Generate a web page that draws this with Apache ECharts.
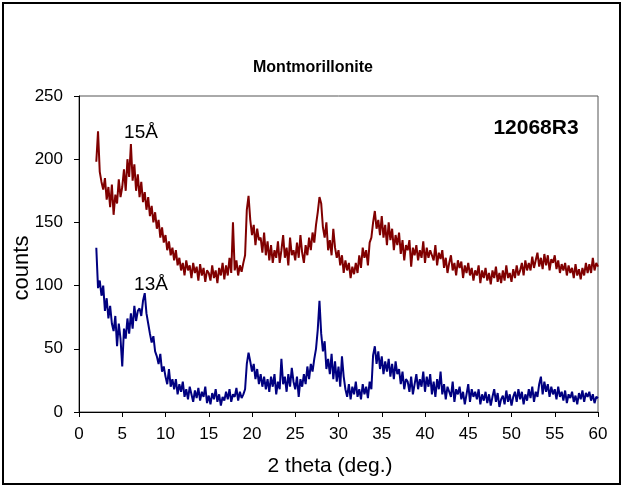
<!DOCTYPE html>
<html><head><meta charset="utf-8">
<script src="https://cdn.jsdelivr.net/npm/echarts@6/dist/echarts.min.js"></script>
<style>html,body{margin:0;padding:0;background:#fff}#c{width:625px;height:489px}</style>
</head><body><div id="c"></div>
<script>
// 2theta sampling: start 2.0 deg, step 0.2 deg, up to 60.0 deg
const thetaStart = 2.0;
const thetaStep = 0.2;
const xTicks = [0,5,10,15,20,25,30,35,40,45,50,55,60];
const yTicks = [0,50,100,150,200,250];

// Upper trace (15 Å sample), counts
const redCounts = [
198,222,190,182,176, 185,168,178,162,180, 156,172,165,184,170, 178,192,175,200,186,
212,183,196,175,188, 170,182,166,174,160, 170,155,163,150,158, 145,152,138,146,134,
140,128,135,124,130, 120,128,116,122,112, 118,108,120,112,116, 106,118,110,115,104,
117,108,114,103,112, 110,104,116,106,112, 102,114,108,118,105, 116,108,122,110,150,
112,120,108,116,111, 118,124,160,171,152, 140,148,132,145,136, 138,126,142,124,135,
120,132,118,128,122, 135,118,128,140,122, 130,116,138,124,128, 120,134,122,140,126,
118,132,124,138,128, 142,134,148,158,170, 165,146,138,150,128, 136,124,145,130,122,
128,116,124,110,120, 112,118,106,115,109, 118,110,124,114,130, 122,128,116,134,138,
150,159,145,152,140, 155,138,148,132,150, 136,145,128,140,132, 142,125,136,120,132,
128,136,115,130,124, 132,120,128,122,135, 118,130,122,128,124, 120,132,116,126,121,
128,114,122,110,118, 124,112,118,108,120, 114,119,106,116,110, 118,108,114,104,112,
108,116,102,112,106, 114,104,110,101,112, 106,115,103,110,102, 112,104,116,106,110,
103,113,106,116,108, 112,118,108,120,112, 118,112,123,114,120, 126,115,122,113,125,
116,124,112,121,118, 124,113,120,110,117, 112,118,108,116,110, 114,106,117,108,113,
105,114,108,118,110, 117,110,122,112,118, 115
];

// Lower trace (13 Å sample), counts
const blueCounts = [
130,98,104,92,100, 80,90,74,84,70, 64,76,52,70,58, 36,66,58,74,62,
78,66,84,72,80, 82,76,88,94,78, 70,62,55,60,48, 44,38,46,32,36,
28,22,34,20,26, 18,26,14,22,16, 24,12,18,10,20, 14,8,17,11,19,
9,16,12,20,7, 13,6,15,10,18, 8,14,5,12,9, 16,10,18,8,14,
12,19,9,16,11, 14,18,38,47,40, 32,38,26,34,22, 30,20,28,18,26,
16,28,20,30,14, 24,18,42,22,28, 16,30,20,35,24, 18,28,12,26,20,
30,22,36,26,38, 32,42,50,65,88, 62,48,56,34,42, 30,46,26,40,24,
36,20,44,28,18, 12,22,10,20,14, 24,12,18,10,22, 14,20,11,24,18,
45,52,38,48,34, 44,30,40,32,42, 28,38,26,40,30, 34,22,32,18,26,
24,16,28,14,22, 30,18,26,20,32, 16,28,20,30,14, 24,12,26,18,32,
14,22,10,20,16, 12,24,8,18,14, 20,10,16,6,14, 22,8,18,12,16,
10,18,6,14,9, 16,7,14,5,12, 18,8,15,4,10, 13,6,17,8,14,
5,12,16,8,18, 10,16,6,14,9, 18,11,20,8,16, 12,22,28,14,24,
16,22,12,20,14, 18,10,20,12,16, 9,17,7,14,11, 16,8,13,6,15,
10,17,8,15,12, 16,9,14,7,12, 11
];

const titleText = 'Montmorillonite';
const sampleText = '12068R3';
const peakLabels = ['15Å', '13Å'];

function toPairs(arr){ return arr.map((v,i)=>[Math.round((thetaStart+i*thetaStep)*10)/10, v]); }

const chart = echarts.init(document.getElementById('c'), null, {renderer:'canvas'});
const FF = '"Liberation Sans", Arial, sans-serif';
chart.setOption({
  animation:false,
  backgroundColor:'#fff',
  grid:{left:79, right:27, top:96, bottom:77, show:true, borderColor:'#555', borderWidth:1},
  xAxis:{type:'value', min:xTicks[0], max:xTicks[xTicks.length-1], interval:5,
    axisLine:{show:true, onZero:false, lineStyle:{color:'#000', width:1}},
    axisTick:{show:true, length:5, lineStyle:{color:'#000'}},
    axisLabel:{fontFamily:FF, fontSize:17, color:'#000', margin:14},
    splitLine:{show:false}},
  yAxis:{type:'value', min:yTicks[0], max:yTicks[yTicks.length-1], interval:50,
    axisLine:{show:true, onZero:false, lineStyle:{color:'#000', width:1}},
    axisTick:{show:true, length:5, lineStyle:{color:'#000'}},
    axisLabel:{fontFamily:FF, fontSize:17, color:'#000', margin:16},
    splitLine:{show:false}},
  series:[
    {type:'line', data:toPairs(redCounts), symbol:'none', lineStyle:{color:'#800000', width:2}, itemStyle:{color:'#800000'}},
    {type:'line', data:toPairs(blueCounts), symbol:'none', lineStyle:{color:'#000080', width:2}, itemStyle:{color:'#000080'}}
  ],
  graphic:[
    {type:'rect', shape:{x:3, y:3, width:617, height:481}, style:{fill:'none', stroke:'#000', lineWidth:2}, silent:true},
    {type:'text', style:{x:313, y:68, text:titleText, font:'bold 16px '+FF, fill:'#000', textAlign:'center', textVerticalAlign:'middle'}},
    {type:'text', style:{x:536, y:128, text:sampleText, font:'bold 21px '+FF, fill:'#000', textAlign:'center', textVerticalAlign:'middle'}},
    {type:'text', style:{x:141, y:133, text:peakLabels[0], font:'19px '+FF, fill:'#000', textAlign:'center', textVerticalAlign:'middle'}},
    {type:'text', style:{x:151, y:285, text:peakLabels[1], font:'19px '+FF, fill:'#000', textAlign:'center', textVerticalAlign:'middle'}},
    {type:'text', style:{x:330, y:466, text:'2 theta (deg.)', font:'21px '+FF, fill:'#000', textAlign:'center', textVerticalAlign:'middle'}},
    {type:'text', rotation:Math.PI/2, x:22, y:268, style:{x:0, y:0, text:'counts', font:'22px '+FF, fill:'#000', textAlign:'center', textVerticalAlign:'middle'}}
  ]
});
</script></body></html>
